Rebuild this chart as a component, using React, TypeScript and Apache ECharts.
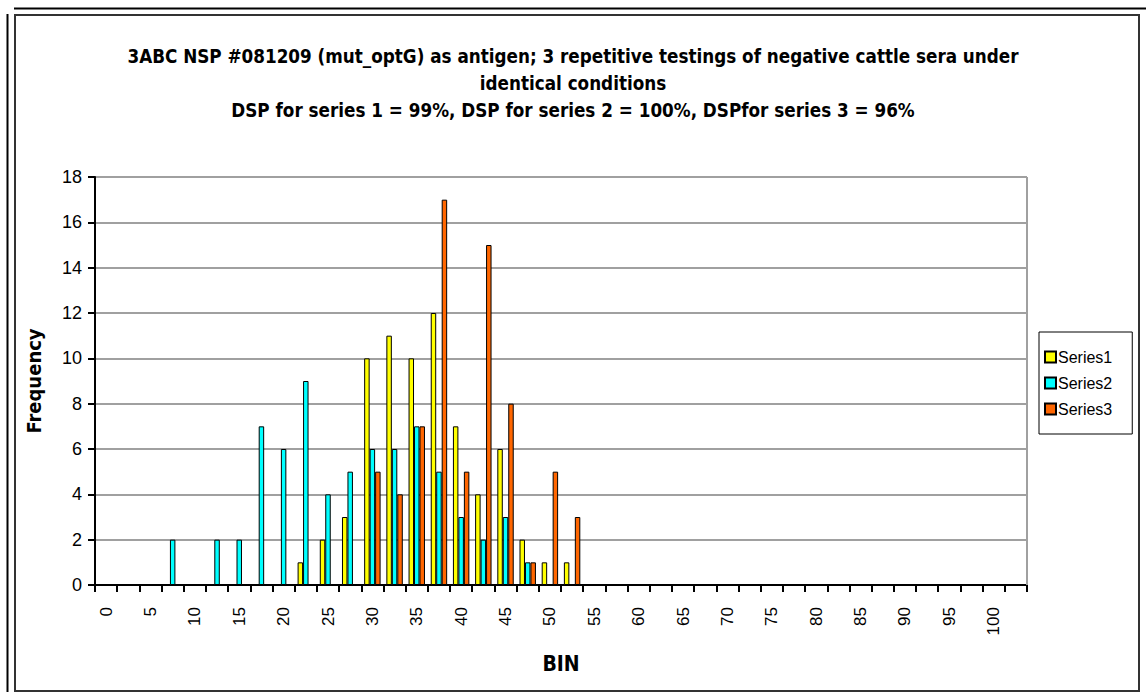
import React, { useEffect, useRef } from "react";
import * as echarts from "echarts";

const bins = [
  "0", "2.5", "5", "7.5", "10", "12.5", "15", "17.5", "20", "22.5",
  "25", "27.5", "30", "32.5", "35", "37.5", "40", "42.5", "45", "47.5",
  "50", "52.5", "55", "57.5", "60", "62.5", "65", "67.5", "70", "72.5",
  "75", "77.5", "80", "82.5", "85", "87.5", "90", "92.5", "95", "97.5",
  "100", "More",
];

const series1 = [
  0, 0, 0, 0, 0, 0, 0, 0, 0, 1,
  2, 3, 10, 11, 10, 12, 7, 4, 6, 2,
  1, 1, 0, 0, 0, 0, 0, 0, 0, 0,
  0, 0, 0, 0, 0, 0, 0, 0, 0, 0,
  0, 0,
];

const series2 = [
  0, 0, 0, 2, 0, 2, 2, 7, 6, 9,
  4, 5, 6, 6, 7, 5, 3, 2, 3, 1,
  0, 0, 0, 0, 0, 0, 0, 0, 0, 0,
  0, 0, 0, 0, 0, 0, 0, 0, 0, 0,
  0, 0,
];

const series3 = [
  0, 0, 0, 0, 0, 0, 0, 0, 0, 0,
  0, 0, 5, 4, 7, 17, 5, 15, 8, 1,
  5, 3, 0, 0, 0, 0, 0, 0, 0, 0,
  0, 0, 0, 0, 0, 0, 0, 0, 0, 0,
  0, 0,
];

const seriesNames = ["Series1", "Series2", "Series3"];
const seriesColors = ["#FFFF00", "#00FFFF", "#FF6600"];

const titleLines = [
  "3ABC NSP #081209 (mut_optG) as antigen; 3 repetitive testings of negative cattle sera under",
  "identical conditions",
  "DSP for series 1 = 99%, DSP for series 2 = 100%, DSPfor series 3 = 96%",
];

const NARROW = '"Liberation Sans Narrow", "Arial Narrow", "DejaVu Sans Condensed", "Liberation Sans", Arial, sans-serif';
const SANS = '"Liberation Sans", Arial, sans-serif';

export default function App() {
  const ref = useRef<HTMLDivElement>(null);

  useEffect(() => {
    if (!ref.current) return;
    const chart = echarts.init(ref.current, null, { renderer: "svg" });
    const values = [series1, series2, series3];
    chart.setOption({
      animation: false,
      backgroundColor: "#ffffff",
      title: {
        text: titleLines.join("\n"),
        left: "center",
        top: 38,
        textStyle: {
          fontFamily: NARROW,
          fontWeight: "bold",
          fontSize: 18.7,
          lineHeight: 27,
          color: "#000",
        },
      },
      legend: {
        orient: "vertical",
        left: 1039,
        top: 332,
        padding: [17, 20, 17, 5],
        itemGap: 10,
        itemWidth: 11,
        itemHeight: 11,
        icon: "rect",
        borderColor: "#000",
        borderWidth: 1,
        textStyle: { fontFamily: SANS, fontSize: 16, color: "#000", padding: [0, 0, 0, -3] },
        data: seriesNames,
      },
      grid: { left: 95, right: 119, top: 177, bottom: 107, containLabel: false, show: false },
      xAxis: {
        type: "category",
        data: bins,
        name: "BIN",
        nameLocation: "middle",
        nameGap: 68,
        nameTextStyle: { fontFamily: NARROW, fontWeight: "bold", fontSize: 21, color: "#000" },
        axisLine: { lineStyle: { color: "#000", width: 2 } },
        axisTick: { show: true, length: 7, interval: 0, lineStyle: { color: "#000", width: 2 } },
        axisLabel: {
          interval: 1,
          rotate: 90,
          margin: 22,
          fontFamily: SANS,
          fontSize: 17,
          color: "#000",
        },
        splitLine: { show: false },
      },
      yAxis: {
        type: "value",
        min: 0,
        max: 18,
        interval: 2,
        name: "Frequency",
        nameLocation: "middle",
        nameGap: 51,
        nameTextStyle: { fontFamily: NARROW, fontWeight: "bold", fontSize: 20, color: "#000" },
        axisLine: { show: true, lineStyle: { color: "#000", width: 2 } },
        axisTick: { show: true, length: 7, lineStyle: { color: "#000", width: 2 } },
        axisLabel: { margin: 13, fontFamily: SANS, fontSize: 18, color: "#000" },
        splitLine: { show: true, lineStyle: { color: "#a0a0a0", width: 2 } },
      },
      graphic: [
        { type: "line", shape: { x1: 1027, y1: 177, x2: 1027, y2: 585 }, style: { stroke: "#a0a0a0", lineWidth: 2 }, z: 1 },
        { type: "line", shape: { x1: 14, y1: 8.5, x2: 1146, y2: 8.5 }, style: { stroke: "#000", lineWidth: 2 } },
        { type: "line", shape: { x1: 7.5, y1: 14, x2: 7.5, y2: 692 }, style: { stroke: "#000", lineWidth: 2 } },
        { type: "rect", shape: { x: 15, y: 15, width: 1124, height: 676 }, style: { fill: "none", stroke: "#333", lineWidth: 2 } },
      ],
      series: seriesNames.map((name, i) => ({
        name,
        type: "bar",
        data: values[i],
        barGap: "0%",
        barCategoryGap: "26%",
        itemStyle: { color: seriesColors[i], borderColor: "#000", borderWidth: 1 },
      })),
    });
    return () => chart.dispose();
  }, []);

  return (
    <div
      ref={ref}
      style={{ position: "fixed", left: 0, top: 0, width: 1146, height: 692, background: "#fff" }}
    />
  );
}
